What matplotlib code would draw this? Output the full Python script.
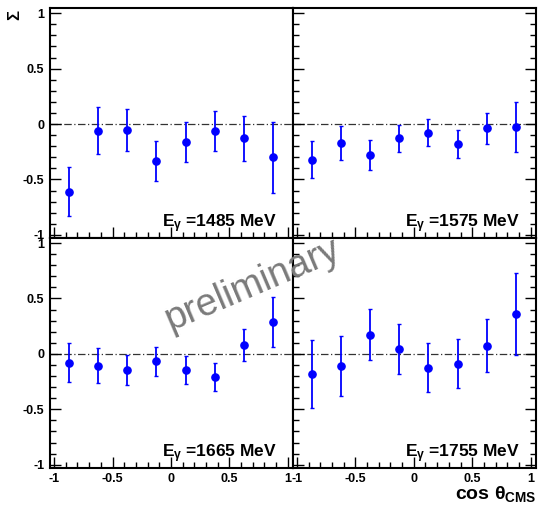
import numpy as np
import matplotlib
matplotlib.use("Agg")
import matplotlib.pyplot as plt
from matplotlib.ticker import MultipleLocator, FuncFormatter

plt.rcParams['font.family'] = ['Liberation Sans', 'DejaVu Sans']
plt.rcParams['font.weight'] = 'bold'
plt.rcParams['mathtext.fontset'] = 'custom'
plt.rcParams['mathtext.rm'] = 'Liberation Sans:bold'
plt.rcParams['mathtext.bf'] = 'Liberation Sans:bold'
plt.rcParams['mathtext.it'] = 'Liberation Sans'

# bin centres in cos(theta_cms)
cos_theta = [-0.875, -0.625, -0.375, -0.125, 0.125, 0.375, 0.625, 0.875]

energies = [1485, 1575, 1665, 1755]

sigma_1485 = [-0.61, -0.06, -0.05, -0.33, -0.16, -0.06, -0.13, -0.30]
err_1485 = [0.22, 0.21, 0.19, 0.18, 0.18, 0.18, 0.20, 0.32]

sigma_1575 = [-0.32, -0.17, -0.28, -0.13, -0.08, -0.18, -0.04, -0.03]
err_1575 = [0.165, 0.15, 0.135, 0.125, 0.122, 0.125, 0.14, 0.225]

sigma_1665 = [-0.08, -0.105, -0.145, -0.065, -0.145, -0.21, 0.08, 0.285]
err_1665 = [0.175, 0.158, 0.138, 0.13, 0.126, 0.127, 0.141, 0.227]

sigma_1755 = [-0.18, -0.107, 0.174, 0.041, -0.125, -0.088, 0.075, 0.36]
err_1755 = [0.305, 0.27, 0.23, 0.225, 0.222, 0.218, 0.24, 0.368]

sigmas = [sigma_1485, sigma_1575, sigma_1665, sigma_1755]
errors = [err_1485, err_1575, err_1665, err_1755]


def fmt(v, pos):
    if abs(v) < 1e-9:
        return "0"
    return "%g" % v


fig, axes = plt.subplots(2, 2, figsize=(5.38, 5.13), dpi=100)
plt.subplots_adjust(left=0.093, right=0.996, top=0.984, bottom=0.088,
                    wspace=0, hspace=0)

for i, ax in enumerate(axes.flat):
    row, col = divmod(i, 2)
    ax.axhline(0, color='#333333', lw=0.9, ls=(0, (6, 2, 1, 2)), zorder=1)
    ax.errorbar(cos_theta, sigmas[i], yerr=errors[i], fmt='o', color='#0000ff',
                ms=5.2, elinewidth=1.3, capsize=1.5, capthick=1.0, zorder=3)
    ax.set_xlim(-1.035, 1.045)
    ax.set_ylim(-1.028, 1.045)

    ax.xaxis.set_major_locator(MultipleLocator(0.5))
    ax.xaxis.set_minor_locator(MultipleLocator(0.1))
    ax.yaxis.set_major_locator(MultipleLocator(0.5))
    ax.yaxis.set_minor_locator(MultipleLocator(0.1))
    ax.xaxis.set_major_formatter(FuncFormatter(fmt))
    ax.yaxis.set_major_formatter(FuncFormatter(fmt))

    ax.tick_params(which='both', direction='in', top=False, bottom=True,
                   left=True, right=(col == 1), labelsize=9, width=1.0,
                   labelbottom=(row == 1), labelleft=(col == 0), pad=4)
    ax.tick_params(which='major', length=8)
    ax.tick_params(which='minor', length=4)
    for sp in ax.spines.values():
        sp.set_linewidth(1.5)

    ax.text(0.935, 0.045, r"E$_{\gamma}$ =%d MeV" % energies[i],
            transform=ax.transAxes, ha='right', va='baseline',
            fontsize=12.5, fontweight='bold')

fig.text(0.028, 0.970, "Σ", rotation=90, ha='center', va='center',
         fontsize=12, fontweight='bold')
fig.text(0.998, 0.027, r"cos $\mathbf{\theta}_{\mathbf{CMS}}$", ha='right',
         va='baseline', fontsize=14, fontweight='bold')

fig.text(0.47, 0.445, "preliminary", rotation=23, ha='center', va='center',
         fontsize=27.5, fontweight='normal', color='#7a7a7a', zorder=10)

fig.savefig("out.png", dpi=100)
